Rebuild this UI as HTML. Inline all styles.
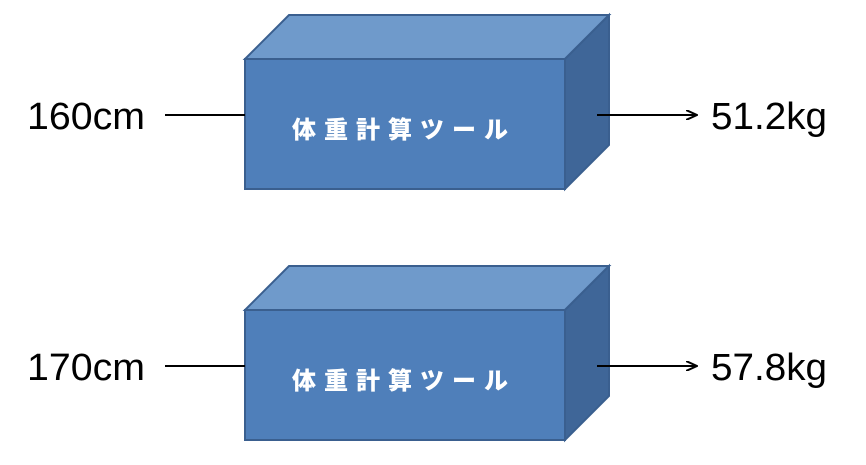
<!DOCTYPE html>
<html><head><meta charset="utf-8"><style>
body{margin:0;background:#fff;}
svg{display:block}
</style></head><body>
<svg width="866" height="465" xmlns="http://www.w3.org/2000/svg">
<defs><marker id="a" markerWidth="12" markerHeight="10" refX="11" refY="5" orient="auto" markerUnits="userSpaceOnUse"><path d="M0,0 L11,5 L0,10" fill="none" stroke="#000" stroke-width="2"/></marker></defs>
<g id="b1">
<polygon points="245,59 289,15 609,15 565,59" fill="#6f9acb" stroke="#3a5f8f" stroke-width="2"/>
<polygon points="565,59 609,15 609,145 565,189" fill="#3f6698" stroke="#3a5f8f" stroke-width="2"/>
<rect x="245" y="59" width="320" height="130" fill="#4f7fba" stroke="#3a5f8f" stroke-width="2"/>
<text x="292" y="138" textLength="216" lengthAdjust="spacing" font-family="'Noto Sans CJK JP',sans-serif" font-weight="900" font-size="24" fill="#fff">体重計算ツール</text>
<line x1="165" y1="115" x2="245" y2="115" stroke="#000" stroke-width="2"/>
<line x1="597" y1="115" x2="697" y2="115" stroke="#000" stroke-width="2" marker-end="url(#a)"/>
</g>
<use href="#b1" y="251"/>
<g font-family="'Liberation Sans',sans-serif" font-size="38" fill="#000">
<text x="27" y="129" textLength="118" lengthAdjust="spacingAndGlyphs">160cm</text>
<text x="711" y="129" textLength="116" lengthAdjust="spacingAndGlyphs">51.2kg</text>
<text x="27" y="380" textLength="118" lengthAdjust="spacingAndGlyphs">170cm</text>
<text x="711" y="380" textLength="116" lengthAdjust="spacingAndGlyphs">57.8kg</text>
</g>
</svg>
</body></html>
